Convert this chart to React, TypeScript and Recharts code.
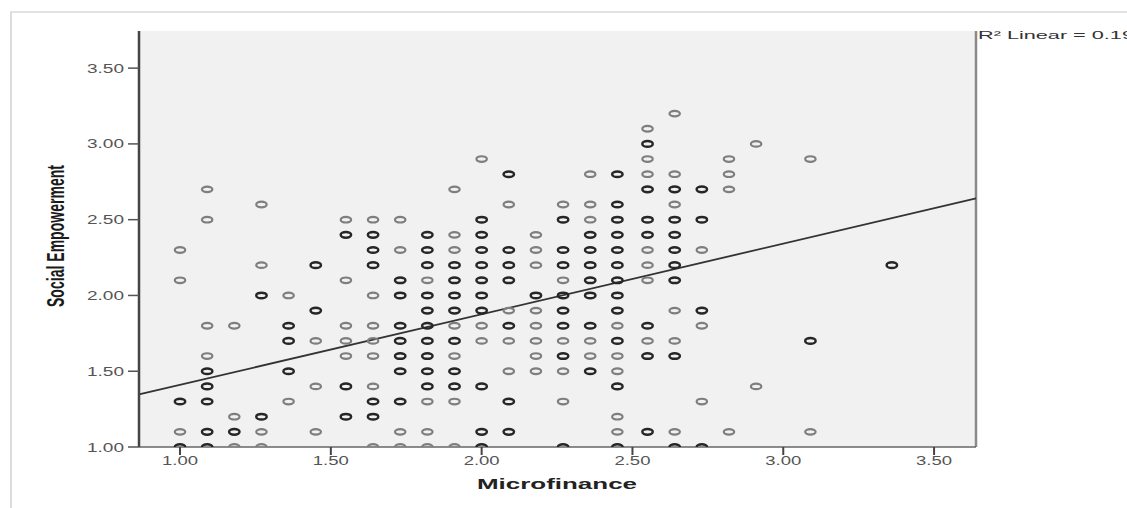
import {
  CartesianGrid,
  ReferenceLine,
  Scatter,
  ScatterChart,
  XAxis,
  YAxis,
} from 'recharts'

// Microfinance score columns (steps of 1/11)
const microfinance = [
  1.0, 1.09, 1.18, 1.27, 1.36, 1.45, 1.55, 1.64, 1.73, 1.82, 1.91, 2.0, 2.09,
  2.18, 2.27, 2.36, 2.45, 2.55, 2.64, 2.73, 2.82, 2.91, 3.0, 3.09, 3.18, 3.27,
  3.36,
]

// Social empowerment values seen once per column (light rings)
const singleY: number[][] = [
  [2.3, 2.1, 1.1],
  [2.7, 2.5, 1.8, 1.6],
  [1.8, 1.2, 1.0],
  [2.6, 2.2, 1.1, 1.0],
  [2.0, 1.3],
  [1.7, 1.4, 1.1],
  [2.5, 2.1, 1.8, 1.7, 1.6],
  [2.5, 2.0, 1.8, 1.7, 1.6, 1.4, 1.0],
  [2.5, 2.3, 1.1, 1.0],
  [2.1, 1.3, 1.1, 1.0],
  [2.7, 2.4, 2.3, 1.8, 1.6, 1.3, 1.0],
  [2.9, 1.8, 1.7],
  [2.6, 1.9, 1.7, 1.5],
  [2.4, 2.3, 2.2, 1.9, 1.8, 1.7, 1.6, 1.5],
  [2.6, 2.1, 1.7, 1.5, 1.3],
  [2.8, 2.6, 2.5, 1.7, 1.6],
  [1.8, 1.6, 1.5, 1.2, 1.1],
  [3.1, 2.9, 2.8, 2.3, 2.2, 2.1, 1.7],
  [3.2, 2.8, 2.6, 1.9, 1.7, 1.1],
  [2.3, 1.8, 1.3],
  [2.9, 2.8, 2.7, 1.1],
  [3.0, 1.4],
  [],
  [2.9, 1.1],
  [],
  [],
  [],
]

// values repeated in a column (overlapping, darker rings)
const repeatedY: number[][] = [
  [1.3, 1.0],
  [1.5, 1.4, 1.3, 1.1, 1.0],
  [1.1],
  [2.0, 1.2],
  [1.8, 1.7, 1.5],
  [2.2, 1.9],
  [2.4, 1.4, 1.2],
  [2.4, 2.3, 2.2, 1.3, 1.2],
  [2.1, 2.0, 1.8, 1.7, 1.6, 1.5, 1.3],
  [2.4, 2.3, 2.2, 2.0, 1.9, 1.8, 1.7, 1.6, 1.5, 1.4],
  [2.2, 2.1, 2.0, 1.9, 1.7, 1.5, 1.4],
  [2.5, 2.4, 2.3, 2.2, 2.1, 2.0, 1.9, 1.4, 1.1, 1.0],
  [2.8, 2.3, 2.2, 2.1, 1.8, 1.3, 1.1],
  [2.0],
  [2.5, 2.3, 2.2, 2.0, 1.9, 1.8, 1.6, 1.0],
  [2.4, 2.3, 2.2, 2.1, 2.0, 1.8, 1.5],
  [2.8, 2.6, 2.5, 2.4, 2.3, 2.2, 2.1, 2.0, 1.9, 1.7, 1.4, 1.0],
  [3.0, 2.7, 2.5, 2.4, 1.8, 1.6, 1.1],
  [2.7, 2.5, 2.4, 2.3, 2.2, 2.1, 1.6, 1.0],
  [2.7, 2.5, 1.9, 1.0],
  [],
  [],
  [],
  [1.7],
  [],
  [],
  [2.2],
]

const xTicks = [1.0, 1.5, 2.0, 2.5, 3.0, 3.5]
const yTicks = [1.0, 1.5, 2.0, 2.5, 3.0, 3.5]
const xDomain = [0.864, 3.639]
const yDomain = [1.0, 3.745]

// linear fit
const fitIntercept = 0.944
const fitSlope = 0.466
const rSquared = '0.194'

const toPoints = (cols: number[][]) =>
  cols.flatMap((ys, i) => ys.map(y => ({ x: microfinance[i], y })))

const singlePoints = toPoints(singleY)
const repeatedPoints = toPoints(repeatedY)

const font = '"Liberation Sans", Arial, sans-serif'

const ring = (stroke: string, width: number) => (props: any) => (
  <ellipse
    cx={props.cx}
    cy={props.cy}
    rx={5.2}
    ry={2.8}
    fill='none'
    stroke={stroke}
    strokeWidth={width}
  />
)

const XTick = (props: any) => (
  <text
    x={props.x}
    y={464.5}
    textAnchor='middle'
    fontFamily={font}
    fontSize={12}
    fill='#555'
    textLength={36}
    lengthAdjust='spacingAndGlyphs'
  >
    {Number(props.payload.value).toFixed(2)}
  </text>
)

const YTick = (props: any) => (
  <text
    x={124}
    y={props.y + 4.5}
    textAnchor='end'
    fontFamily={font}
    fontSize={12}
    fill='#555'
    textLength={37}
    lengthAdjust='spacingAndGlyphs'
  >
    {Number(props.payload.value).toFixed(2)}
  </text>
)

export default function App() {
  return (
    <div
      style={{
        position: 'absolute',
        left: 0,
        top: 0,
        width: 1127,
        height: 508,
        overflow: 'hidden',
        background: '#fff',
      }}
    >
      <div
        style={{
          position: 'absolute',
          left: 10,
          top: 11,
          right: -10,
          bottom: -10,
          borderTop: '2px solid #e2e2e2',
          borderLeft: '2px solid #dcdcdc',
        }}
      />
      <div style={{ position: 'absolute', left: 0, top: 0 }}>
        <ScatterChart
          width={1127}
          height={508}
          margin={{ top: 31, right: 151, bottom: 0, left: 0 }}
        >
          <CartesianGrid
            horizontal={false}
            vertical={false}
            fill='#f1f1f1'
            stroke='none'
          />
          <XAxis
            type='number'
            dataKey='x'
            domain={xDomain}
            ticks={xTicks}
            interval={0}
            height={61}
            tick={XTick}
            tickSize={8}
            tickLine={{ stroke: '#444', strokeWidth: 2 }}
            axisLine={{ stroke: '#666', strokeWidth: 1.5 }}
            allowDataOverflow
          />
          <YAxis
            type='number'
            dataKey='y'
            domain={yDomain}
            ticks={yTicks}
            interval={0}
            width={139}
            tick={YTick}
            tickSize={11}
            tickLine={{ stroke: '#555', strokeWidth: 1.5 }}
            axisLine={{ stroke: '#444', strokeWidth: 2.5 }}
            allowDataOverflow
          />
          <ReferenceLine
            x={xDomain[1]}
            stroke='#8a8a8a'
            strokeWidth={2.5}
            ifOverflow='extendDomain'
          />
          <Scatter
            data={singlePoints}
            shape={ring('#7e7e7e', 2.2)}
            isAnimationActive={false}
          />
          <Scatter
            data={repeatedPoints}
            shape={ring('#262626', 2.5)}
            isAnimationActive={false}
          />
          <ReferenceLine
            segment={[
              { x: xDomain[0], y: fitIntercept + fitSlope * xDomain[0] },
              { x: xDomain[1], y: fitIntercept + fitSlope * xDomain[1] },
            ]}
            stroke='#333'
            strokeWidth={1.8}
          />
        </ScatterChart>
      </div>
      <svg
        width={1127}
        height={508}
        style={{ position: 'absolute', left: 0, top: 0, pointerEvents: 'none' }}
      >
        <text
          x={557}
          y={489}
          textAnchor='middle'
          fontFamily={font}
          fontSize={15.5}
          fontWeight='bold'
          fill='#222'
          textLength={160}
          lengthAdjust='spacingAndGlyphs'
        >
          Microfinance
        </text>
        <text
          transform='translate(64,236) scale(1.6,1) rotate(-90)'
          textAnchor='middle'
          fontFamily={font}
          fontSize={14.5}
          fontWeight='bold'
          fill='#1a1a1a'
          textLength={142}
          lengthAdjust='spacingAndGlyphs'
        >
          Social Empowerment
        </text>
        <text
          x={978}
          y={39}
          fontFamily={font}
          fontSize={11.5}
          fill='#333'
          textLength={168}
          lengthAdjust='spacingAndGlyphs'
        >
          {`R² Linear = ${rSquared}`}
        </text>
      </svg>
    </div>
  )
}
